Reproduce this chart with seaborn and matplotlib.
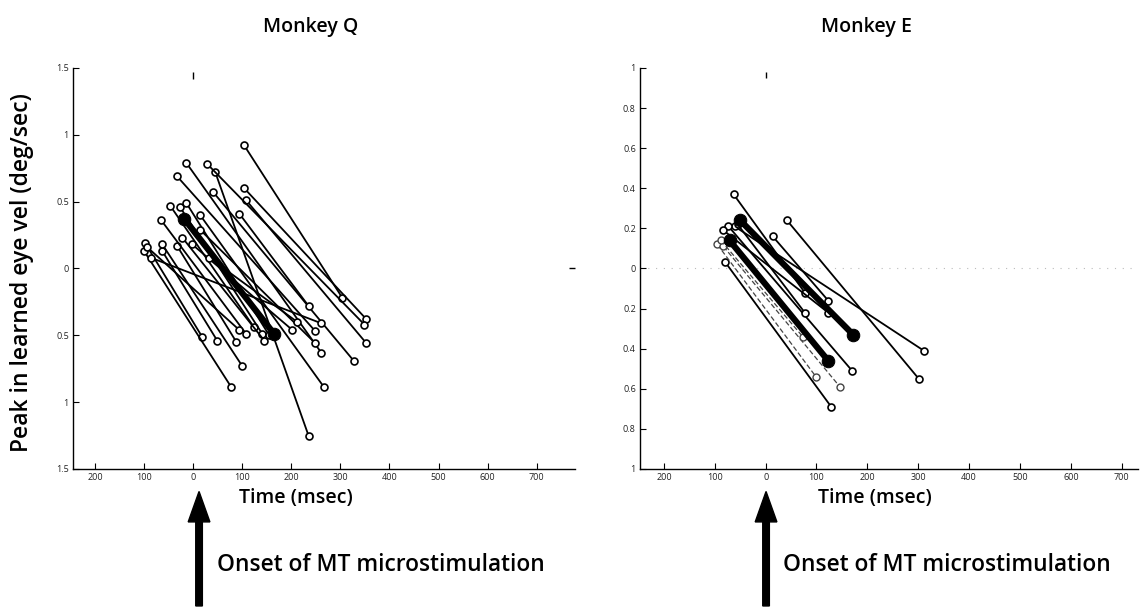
import numpy as np
import pandas as pd
import matplotlib
matplotlib.use("Agg")
import matplotlib.pyplot as plt
from matplotlib.patches import FancyArrow
import seaborn as sns

# ---------------- data ----------------
# Monkey Q: each pair = (time at start, velocity at start) -> (time at end, velocity at end)
q_t_start = [104, 104, 108, 45, 29, -14, -33, 41, 94, 14, -98, -63, -100, -63, -33,
             -47, -27, -14, -65, -22, 14, -2, 33, -86, -94]
q_v_start = [0.92, 0.60, 0.51, 0.72, 0.78, 0.79, 0.69, 0.57, 0.41, 0.40, 0.19, 0.13, 0.13, 0.18, 0.17,
             0.47, 0.46, 0.49, 0.36, 0.23, 0.29, 0.18, 0.08, 0.08, 0.16]
q_t_end = [304, 353, 353, 235, 349, 261, 249, 327, 235, 267, 18, 49, 78, 100, 88,
           124, 141, 155, 108, 145, 249, 202, 212, 261, 94]
q_v_end = [-0.22, -0.38, -0.56, -1.25, -0.42, -0.63, -0.47, -0.69, -0.28, -0.89, -0.51, -0.54, -0.89, -0.73, -0.55,
           -0.44, -0.49, -0.50, -0.49, -0.54, -0.56, -0.46, -0.40, -0.41, -0.46]
q_mean_t = [-18, 165]
q_mean_v = [0.37, -0.49]

# Monkey E
e_t_start = [-63, 42, -61, 14, -73, -83, -95, -83, -79, -88, -55]
e_v_start = [0.37, 0.24, 0.21, 0.16, 0.21, 0.19, 0.12, 0.11, 0.03, 0.14, 0.22]
e_t_end = [77, 301, 311, 123, 170, 123, 99, 146, 129, 73, 77]
e_v_end = [-0.12, -0.55, -0.41, -0.16, -0.51, -0.22, -0.54, -0.59, -0.69, -0.34, -0.22]
e_faint = [False, False, False, False, False, False, True, True, False, True, False]
e_mean_t = [[-50, 172], [-71, 123]]
e_mean_v = [[0.24, -0.33], [0.14, -0.46]]

x_ticks = [-200, -100, 0, 100, 200, 300, 400, 500, 600, 700]
x_ticklabels = ["200", "100", "0", "100", "200", "300", "400", "500", "600", "700"]
q_y_ticks = [1.5, 1, 0.5, 0, -0.5, -1, -1.5]
q_y_ticklabels = ["1.5", "1", "0.5", "0", "0.5", "1", "1.5"]
e_y_ticks = [1, 0.8, 0.6, 0.4, 0.2, 0, -0.2, -0.4, -0.6, -0.8, -1]
e_y_ticklabels = ["1", "0.8", "0.6", "0.4", "0.2", "0", "0.2", "0.4", "0.6", "0.8", "1"]

titles = ["Monkey Q", "Monkey E"]
ylabel = "Peak in learned eye vel (deg/sec)"
xlabel = "Time (msec)"
onset = "Onset of MT microstimulation"

# ---------------- style ----------------
sns.set_style("ticks")
plt.rcParams["font.family"] = ["Open Sans", "DejaVu Sans"]
plt.rcParams["text.color"] = "black"


def pairs_df(ts, vs, te, ve):
    rows = []
    for i, (a, b, c, d) in enumerate(zip(ts, vs, te, ve)):
        rows.append({"pair": i, "time": a, "vel": b})
        rows.append({"pair": i, "time": c, "vel": d})
    return pd.DataFrame(rows)


fig = plt.figure(figsize=(11.42, 6.09), dpi=100)
axQ = fig.add_axes([0.0639, 0.2299, 0.4396, 0.6585])
axE = fig.add_axes([0.5604, 0.2299, 0.4361, 0.6585])

circ = dict(marker="o", markersize=5, markerfacecolor="white",
            markeredgecolor="black", markeredgewidth=1.2)

# Monkey Q
dfq = pairs_df(q_t_start, q_v_start, q_t_end, q_v_end)
sns.lineplot(data=dfq, x="time", y="vel", units="pair", estimator=None, sort=False,
             color="black", linewidth=1.3, ax=axQ, legend=False, **circ)
dfqm = pd.DataFrame({"time": q_mean_t, "vel": q_mean_v})
sns.lineplot(data=dfqm, x="time", y="vel", estimator=None, sort=False, color="black",
             linewidth=4.5, marker="o", markersize=9, markerfacecolor="black",
             markeredgecolor="black", ax=axQ, legend=False)

# Monkey E
keep = [i for i, f in enumerate(e_faint) if not f]
faint = [i for i, f in enumerate(e_faint) if f]
dfe = pairs_df([e_t_start[i] for i in keep], [e_v_start[i] for i in keep],
               [e_t_end[i] for i in keep], [e_v_end[i] for i in keep])
sns.lineplot(data=dfe, x="time", y="vel", units="pair", estimator=None, sort=False,
             color="black", linewidth=1.3, ax=axE, legend=False, **circ)
dff = pairs_df([e_t_start[i] for i in faint], [e_v_start[i] for i in faint],
               [e_t_end[i] for i in faint], [e_v_end[i] for i in faint])
sns.lineplot(data=dff, x="time", y="vel", units="pair", estimator=None, sort=False,
             color="#444444", linewidth=0.9, linestyle=(0, (4, 2)), ax=axE, legend=False,
             marker="o", markersize=5, markerfacecolor="white",
             markeredgecolor="#444444", markeredgewidth=1.0)
for mt, mv in zip(e_mean_t, e_mean_v):
    dfm = pd.DataFrame({"time": mt, "vel": mv})
    sns.lineplot(data=dfm, x="time", y="vel", estimator=None, sort=False, color="black",
                 linewidth=4.5, marker="o", markersize=9, markerfacecolor="black",
                 markeredgecolor="black", ax=axE, legend=False)

# faint dotted zero line in Monkey E panel
axE.axhline(0, color="#bbbbbb", linewidth=0.8, linestyle=(0, (1, 6)), zorder=0)

# axes formatting
for ax, yt, ytl, ylim, xlim in [(axQ, q_y_ticks, q_y_ticklabels, (-1.5, 1.5), (-245, 778)),
                                 (axE, e_y_ticks, e_y_ticklabels, (-1, 1), (-247, 732))]:
    ax.set_xlim(*xlim)
    ax.set_ylim(*ylim)
    ax.set_xticks(x_ticks)
    ax.set_xticklabels(x_ticklabels)
    ax.set_yticks(yt)
    ax.set_yticklabels(ytl)
    ax.tick_params(direction="in", length=4, width=0.8, labelsize=6.5,
                   labelcolor="#222222", pad=3, color="black")
    sns.despine(ax=ax)
    ax.spines["left"].set_linewidth(1.0)
    ax.spines["bottom"].set_linewidth(1.0)
    ax.spines["left"].set_color("black")
    ax.spines["bottom"].set_color("black")
    ax.set_xlabel("")
    ax.set_ylabel("")

# small marks at x = 0 near the top of each panel
axQ.vlines(0, 1.42, 1.47, color="black", linewidth=1.0)
axE.vlines(0, 0.95, 0.98, color="black", linewidth=1.0)
axQ.hlines(0, 765, 778, color="black", linewidth=1.0, clip_on=False)

# texts
fw = "semibold"
fig.text(0.2723, 0.9557, titles[0], ha="center", va="center", fontsize=14, fontweight=fw)
fig.text(0.759, 0.9557, titles[1], ha="center", va="center", fontsize=14, fontweight=fw)
fig.text(0.019, 0.552, ylabel, ha="center", va="center", rotation=90, fontsize=16.5, fontweight=fw)
fig.text(0.259, 0.183, xlabel, ha="center", va="center", fontsize=14, fontweight=fw)
fig.text(0.766, 0.183, xlabel, ha="center", va="center", fontsize=14, fontweight=fw)
fig.text(0.19, 0.0722, onset, ha="left", va="center", fontsize=16.4, fontweight=fw)
fig.text(0.6856, 0.0722, onset, ha="left", va="center", fontsize=16.4, fontweight=fw)

# arrows
for xa in [0.1743, 0.6708]:
    arr = FancyArrow(xa, 0.005, 0, 0.188, width=0.0058, head_width=0.019,
                     head_length=0.05, length_includes_head=True,
                     transform=fig.transFigure, color="black")
    fig.add_artist(arr)

fig.savefig("out.png", dpi=100)
